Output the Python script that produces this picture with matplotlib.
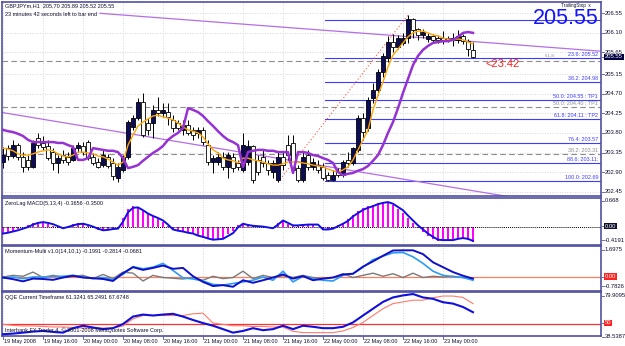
import matplotlib
matplotlib.use('Agg')
import matplotlib.pyplot as plt
from matplotlib.transforms import blended_transform_factory
import numpy as np

plt.rcParams['font.family'] = ['Liberation Sans', 'DejaVu Sans']

# ---- price bars (GBPJPYm, H1) ----
opens = [203.13, 203.45, 203.27, 203.52, 203.25, 203.18, 203.02, 203.68, 203.57, 203.50,
         203.36, 203.11, 203.29, 203.25, 203.18, 203.45, 203.50, 203.59, 203.25, 203.13,
         203.06, 203.25, 203.11, 202.76, 202.95, 203.25, 203.94, 204.14, 204.51, 204.03,
         204.03, 204.33, 204.26, 204.28, 204.10, 204.03, 203.87, 203.98, 203.87, 203.80,
         203.87, 203.52, 203.13, 203.13, 203.25, 203.02, 203.25, 203.11, 202.95, 203.13,
         203.48, 203.18, 203.25, 203.11, 202.90, 202.72, 203.25, 203.52, 203.57, 202.99,
         202.72, 203.29, 203.02, 203.06, 203.02, 202.83, 202.72, 202.90, 202.83, 203.18,
         203.11, 203.41, 204.14, 203.91, 204.60, 204.79, 205.20, 205.52, 205.89, 205.78,
         205.87, 205.98, 206.42, 206.17, 206.05, 205.96, 206.01, 205.98, 205.98, 205.98,
         205.98, 205.94, 206.01, 205.91, 205.70]
highs = [203.48, 203.52, 203.64, 203.57, 203.36, 203.29, 203.64, 203.80, 203.73, 203.64,
         203.45, 203.29, 203.41, 203.36, 203.52, 203.59, 203.59, 203.64, 203.34, 203.22,
         203.41, 203.32, 203.22, 203.11, 203.29, 204.10, 204.21, 204.60, 204.72, 204.14,
         204.44, 204.63, 204.49, 204.49, 204.21, 204.10, 204.10, 204.10, 203.94, 203.94,
         203.94, 203.64, 203.29, 203.36, 203.36, 203.36, 203.34, 203.18, 203.80, 203.64,
         203.52, 203.29, 203.41, 203.18, 203.18, 203.36, 203.36, 203.75, 203.75, 203.06,
         203.36, 203.41, 203.22, 203.18, 203.11, 202.90, 202.95, 202.99, 203.18, 203.36,
         203.48, 204.21, 204.26, 204.63, 204.95, 205.27, 205.64, 206.03, 206.08, 206.06,
         206.10, 206.51, 206.45, 206.21, 206.19, 206.10, 206.08, 206.05, 206.15, 206.03,
         206.10, 206.17, 206.08, 205.96, 205.89]
lows = [202.99, 203.18, 203.22, 203.18, 202.90, 202.95, 202.99, 203.45, 203.41, 203.18,
        202.95, 202.88, 203.11, 203.06, 203.15, 203.36, 203.29, 203.18, 203.06, 202.99,
        203.02, 202.99, 202.72, 202.67, 202.90, 203.20, 203.87, 204.10, 203.71, 203.75,
        203.68, 204.19, 204.17, 203.98, 203.82, 203.87, 203.75, 203.75, 203.64, 203.68,
        203.52, 203.06, 202.88, 203.06, 202.95, 202.76, 202.90, 202.95, 202.90, 203.06,
        202.65, 202.83, 203.02, 202.83, 202.76, 202.67, 202.95, 203.18, 202.90, 202.67,
        202.67, 202.95, 202.95, 202.88, 202.72, 202.69, 202.69, 202.79, 202.79, 203.02,
        203.06, 203.36, 203.64, 203.85, 204.49, 204.67, 205.09, 205.43, 205.66, 205.73,
        205.82, 205.87, 205.98, 205.94, 205.98, 205.89, 205.89, 205.87, 205.85, 205.89,
        205.80, 205.87, 205.85, 205.57, 205.52]
closes = [203.29, 203.27, 203.52, 203.25, 203.02, 203.02, 203.57, 203.52, 203.48, 203.22,
          203.11, 203.22, 203.18, 203.13, 203.45, 203.52, 203.36, 203.22, 203.11, 203.02,
          203.29, 203.04, 202.81, 203.02, 203.25, 204.05, 204.14, 204.51, 203.75, 203.87,
          204.33, 204.26, 204.33, 204.17, 203.91, 203.91, 203.98, 203.80, 203.75, 203.87,
          203.59, 203.13, 203.22, 203.25, 203.02, 203.29, 202.99, 203.02, 203.52, 203.48,
          202.72, 202.90, 203.11, 202.95, 203.11, 203.25, 203.06, 203.29, 202.95, 202.72,
          203.25, 203.02, 203.13, 202.95, 202.76, 202.72, 202.83, 202.83, 203.13, 203.11,
          203.45, 204.14, 203.82, 204.56, 204.79, 205.20, 205.55, 205.89, 205.78, 205.98,
          205.98, 206.40, 206.17, 206.05, 206.12, 206.03, 205.94, 205.94, 205.94, 205.94,
          205.94, 206.03, 205.91, 205.73, 205.55]

# orange MA and purple indicator line, one value per bar
ma_orange = [203.45, 203.43, 203.39, 203.32, 203.29, 203.29, 203.32, 203.36, 203.39, 203.41,
             203.39, 203.32, 203.27, 203.25, 203.29, 203.36, 203.36, 203.34, 203.32, 203.27,
             203.25, 203.20, 203.13, 203.06, 203.13, 203.52, 203.75, 203.96, 204.05, 204.12,
             204.19, 204.21, 204.17, 204.14, 204.10, 204.03, 203.94, 203.87, 203.84, 203.80,
             203.71, 203.55, 203.41, 203.34, 203.22, 203.18, 203.16, 203.11, 203.22, 203.22,
             203.18, 203.16, 203.13, 203.09, 203.06, 203.06, 203.09, 203.13, 203.13, 203.13,
             203.11, 203.09, 203.06, 203.04, 203.02, 202.97, 202.93, 202.90, 202.95, 203.02,
             203.18, 203.41, 203.64, 203.87, 204.33, 204.67, 204.97, 205.32, 205.59, 205.73,
             205.87, 206.01, 206.10, 206.14, 206.14, 206.10, 206.05, 206.03, 205.98, 205.96,
             205.94, 205.96, 205.94, 205.89, 205.85]
line_purple = [203.87, 203.84, 203.82, 203.78, 203.73, 203.64, 203.59, 203.59, 203.59, 203.59,
               203.59, 203.57, 203.57, 203.52, 203.48, 203.18, 203.18, 203.22, 203.45, 203.43,
               203.41, 203.39, 203.39, 203.36, 203.22, 202.99, 203.02, 203.06, 203.16, 203.25,
               203.34, 203.41, 203.50, 203.64, 203.73, 203.80, 203.91, 204.37, 204.33, 204.28,
               204.19, 204.07, 203.96, 203.84, 203.73, 203.64, 203.59, 203.52, 203.02, 203.36,
               203.39, 203.41, 203.41, 203.39, 203.39, 203.36, 203.36, 203.36, 202.88, 203.36,
               203.36, 203.34, 203.29, 203.27, 203.22, 203.18, 203.11, 202.90, 202.83, 202.86,
               202.88, 202.93, 202.97, 203.04, 203.16, 203.29, 203.52, 203.80, 204.05, 204.37,
               204.72, 205.04, 205.36, 205.57, 205.71, 205.80, 205.87, 205.89, 205.91, 205.91,
               205.94, 206.01, 206.10, 206.12, 206.10]

# fibonacci objects
fib_pct = [0.0, 23.6, 38.2, 50.0, 61.8, 76.4, 88.6, 100.0]
fib_price = [206.39, 205.52, 204.98, 204.55, 204.11, 203.57, 203.11, 202.69]
fib_text = ['', '23.6: 205.52', '38.2: 204.98', '50.0: 204.55 : TP1', '61.8: 204.11 : TP2',
            '76.4: 203.57', '88.6: 203.11:', '100.0: 202.69']
old_fib_price = [205.45, 204.40, 203.31]
old_fib_text = ['61.8: ', '50.0: 204.40 : TP1', '38.2: 203.31']

# trendlines (bar, price) anchors
trend1_bar = [19.4, 119.4]
trend1_price = [206.55, 205.68]
trend2_bar = [-0.2, 101.4]
trend2_price = [204.27, 202.33]

price_ticks = [206.55, 206.10, 205.65, 205.15, 204.70, 204.25, 203.80, 203.35, 202.90, 202.45]
time_labels = ['19 May 2008', '19 May 16:00', '20 May 00:00', '20 May 08:00', '20 May 16:00',
               '21 May 00:00', '21 May 08:00', '21 May 16:00', '22 May 00:00', '22 May 08:00',
               '22 May 16:00', '23 May 00:00']

# ---- ZeroLag MACD ----
macd_hist = [-0.15, -0.14, -0.10, -0.06, -0.02, 0.03, 0.08, 0.11, 0.10, 0.07,
             0.02, -0.03, -0.02, 0.02, 0.06, 0.08, 0.06, 0.02, -0.03, -0.08,
             -0.10, -0.07, -0.06, -0.04, 0.20, 0.42, 0.51, 0.45, 0.38, 0.30,
             0.25, 0.19, 0.12, 0.02, -0.09, -0.11, -0.14, -0.16, -0.19, -0.24,
             -0.27, -0.31, -0.32, -0.30, -0.27, -0.19, -0.10, 0.03, 0.09, 0.03,
             0.01, 0.00, -0.01, -0.03, -0.02, 0.09, 0.13, 0.06, 0.02, 0.04,
             0.05, 0.05, 0.04, -0.02, -0.09, -0.08, -0.03, 0.04, 0.10, 0.18,
             0.28, 0.37, 0.45, 0.50, 0.54, 0.58, 0.61, 0.59, 0.52, 0.42,
             0.33, 0.20, 0.08, -0.04, -0.14, -0.23, -0.30, -0.34, -0.34, -0.33,
             -0.31, -0.29, -0.30, -0.33, -0.37]
macd_signal = [-0.17, -0.15, -0.12, -0.09, -0.05, -0.01, 0.05, 0.09, 0.11, 0.09,
               0.06, 0.01, -0.04, -0.01, 0.03, 0.06, 0.07, 0.04, 0.00, -0.05,
               -0.09, -0.08, -0.06, -0.05, 0.12, 0.35, 0.46, 0.47, 0.40, 0.32,
               0.26, 0.21, 0.15, 0.05, -0.07, -0.10, -0.12, -0.15, -0.17, -0.22,
               -0.25, -0.29, -0.32, -0.31, -0.30, -0.23, -0.16, -0.02, 0.07, 0.04,
               0.02, 0.01, 0.00, -0.02, -0.04, 0.05, 0.15, 0.09, 0.03, 0.03,
               0.04, 0.05, 0.05, 0.05, -0.07, -0.07, -0.05, 0.01, 0.07, 0.14,
               0.25, 0.33, 0.41, 0.46, 0.50, 0.55, 0.58, 0.60, 0.56, 0.48,
               0.40, 0.27, 0.15, 0.03, -0.07, -0.17, -0.25, -0.32, -0.33, -0.33,
               -0.33, -0.30, -0.28, -0.30, -0.35]

# ---- Momentum-Multi (every second bar) ----
mom_dark = [-0.04, -0.13, -0.25, -0.10, -0.12, -0.17, -0.04, 0.06, -0.04, -0.08,
            -0.12, -0.23, 0.20, 0.53, 0.38, 0.49, 0.62, 0.44, 0.49, 0.03,
            -0.28, -0.51, -0.46, -0.55, -0.19, -0.33, -0.19, -0.04, 0.13, -0.10,
            0.04, -0.19, -0.10, -0.04, 0.13, 0.17, 0.56, 0.85, 1.16, 1.45,
            1.46, 1.46, 1.25, 0.80, 0.53, 0.26, 0.06, -0.10]
mom_light = [-0.08, -0.01, -0.10, -0.01, -0.01, 0.03, 0.03, 0.08, -0.01, -0.10,
             -0.04, -0.15, 0.13, 0.56, 0.44, 0.53, 0.74, 0.35, -0.06, -0.12,
             -0.23, -0.42, -0.46, -0.37, -0.28, -0.19, -0.01, -0.19, 0.31, -0.28,
             0.03, -0.10, -0.19, -0.23, 0.08, 0.17, 0.53, 0.94, 1.14, 1.32,
             1.34, 1.10, 0.74, 0.31, 0.08, 0.01, -0.04, -0.19]
mom_gray = [-0.01, 0.08, 0.03, 0.26, -0.04, 0.08, -0.04, 0.03, 0.08, -0.10,
            0.13, -0.10, 0.26, 0.20, -0.23, 0.08, -0.04, -0.08, -0.12, -0.04,
            -0.19, 0.03, -0.10, -0.04, 0.31, -0.10, 0.08, -0.04, 0.06, -0.04,
            0.08, -0.04, -0.10, -0.04, 0.17, -0.04, 0.08, 0.20, 0.03, 0.17,
            -0.04, 0.20, -0.04, 0.03, -0.01, 0.03, -0.04, -0.10]

# ---- QQE (every second bar) ----
qqe_fast = [40.2, 40.8, 41.7, 42.7, 43.3, 42.4, 41.7, 45.9, 48.2, 46.5,
            45.0, 45.9, 49.8, 56.8, 58.7, 57.8, 58.7, 59.4, 56.8, 53.6,
            50.7, 48.2, 45.0, 41.7, 43.3, 45.9, 44.0, 45.0, 48.2, 45.0,
            48.2, 47.2, 45.9, 45.9, 47.2, 51.3, 57.8, 64.2, 70.6, 74.8,
            76.7, 78.0, 74.8, 73.5, 70.3, 69.0, 65.8, 60.9]
qqe_slow = [49.5, 48.5, 48.0, 48.0, 47.5, 47.0, 47.0, 46.5, 46.0, 46.0,
            46.0, 46.0, 48.0, 54.6, 57.8, 57.8, 57.8, 57.8, 57.8, 59.4,
            60.0, 50.7, 49.5, 48.2, 48.2, 47.5, 47.5, 47.0, 47.0, 43.0,
            41.7, 41.7, 41.7, 41.7, 43.3, 46.5, 51.3, 57.8, 64.2, 69.0,
            70.6, 72.2, 72.2, 74.5, 76.1, 76.1, 74.8, 69.0]

# ---------------------------------------------------------------
W, H = 625, 346
fig = plt.figure(figsize=(W / 100, H / 100), dpi=100)
fig.patch.set_facecolor('white')

FRAME = '#5050a0'
GRID = '#c8c8dc'
TXT = '#101030'
FS = 4.0      # label text
AFS = 4.2     # axis value text

n = len(closes)
bars = np.arange(n)
half = np.arange(0, n, 2)
xlim = (-0.2, 119.6)
label_bars = np.arange(0, 8 * len(time_labels), 8)


def panel(top, bottom):
    ax = fig.add_axes([2 / W, 1 - bottom / H, 599 / W, (bottom - top) / H])
    ax.set_facecolor('white')
    ax.set_xlim(*xlim)
    for s in ax.spines.values():
        s.set_color(FRAME)
        s.set_linewidth(1.2)
    ax.set_xticks([])
    ax.set_yticks([])
    for b in label_bars:
        ax.axvline(b, color=GRID, lw=0.6, ls=(0, (1, 2)), zorder=0)
    return ax


def fig_label(py, text, box=None, tc=TXT):
    fig.text(605 / W, 1 - py / H, text, fontsize=AFS, color=tc, va='center', ha='left',
             bbox=None if box is None else dict(facecolor=box, edgecolor='none', pad=0.5))
    fig.add_artist(plt.Line2D([602 / W, 604 / W], [1 - py / H, 1 - py / H],
                              color=FRAME, lw=0.6))


# ---- main chart ----
ax = panel(2, 196)
ax.set_ylim(202.35, 206.81)
to_px = lambda p: 2 + (206.81 - p) / (206.81 - 202.35) * 194
for p in price_ticks:
    ax.axhline(p, color=GRID, lw=0.6, ls=(0, (1, 2)), zorder=0)
    if abs(p - closes[-1]) > 0.06:
        fig_label(to_px(p), f'{p:.2f}')

tr = blended_transform_factory(ax.transAxes, ax.transData)
fib_start = 64.4
for p, t in zip(fib_price, fib_text):
    ax.plot([fib_start, xlim[1]], [p, p], color='#3c3cff', lw=0.8, zorder=1)
    if t:
        ax.text(0.995, p + 0.025, t, transform=tr, fontsize=3.9, color='#3c3cff',
                ha='right', va='bottom')
for p in old_fib_price:
    ax.axhline(p, color='#8c8c8c', lw=0.8, ls=(0, (5, 3)), zorder=1)
ax.text(0.925, old_fib_price[0] + 0.07, old_fib_text[0], transform=tr, fontsize=3.2,
        color='#8c8c8c', ha='right', va='bottom')
for p, t in zip(old_fib_price[1:], old_fib_text[1:]):
    ax.text(0.995, p + 0.025, t, transform=tr, fontsize=3.9, color='#8c8c8c',
            ha='right', va='bottom')

ax.plot(trend1_bar, trend1_price, color='#b46ee6', lw=0.9, zorder=2)
ax.plot(trend2_bar, trend2_price, color='#b46ee6', lw=0.9, zorder=2)

# swing low -> swing high dotted line
lo_i = int(np.argmin(lows[55:75])) + 55
hi_i = int(np.argmax(highs[70:])) + 70
ax.plot([lo_i, hi_i], [lows[lo_i], highs[hi_i]], color='#ff5a3c', lw=0.8,
        ls=(0, (1, 2)), zorder=3)

o = np.array(opens); c = np.array(closes)
up = c >= o
ax.vlines(bars, lows, highs, color='#000000', lw=0.7, zorder=4)
ax.bar(bars, np.abs(c - o) + 0.008, bottom=np.minimum(o, c), width=0.62,
       color=np.where(up, '#0c0c5a', 'white'), edgecolor='#000000', lw=0.6, zorder=5)

ax.plot(bars, ma_orange, color='#ffa500', lw=1.0, zorder=6)
ax.plot(bars, line_purple, color='#9632d2', lw=1.8, zorder=6)

# bid box on the price axis
fig_label(to_px(closes[-1]), f'{closes[-1]:.2f}', box='#000040', tc='white')

fig.text(5 / W, 1 - 6 / H, 'GBPJPYm,H1  205.70 205.89 205.52 205.55', fontsize=FS,
         color=TXT, va='center')
fig.text(5 / W, 1 - 14 / H, '23 minutes 42 seconds left to bar end', fontsize=FS,
         color=TXT, va='center')
fig.text(599 / W, 1 - 18 / H, '205.55', fontsize=15.5, color='#1414ff', ha='right',
         va='center')
fig.text(561 / W, 1 - 5.5 / H, 'TrailingStop  x', fontsize=3.3, color=TXT, va='center')
fig.text(485 / W, 1 - 64 / H, '<23:42', fontsize=8, color='#ff2020', va='center')

# ---- MACD panel ----
ax2 = panel(198, 245)
ax2.set_ylim(-0.45, 0.70)
ax2.bar(bars, macd_hist, width=0.35, color='#ff00ff', zorder=2)
ax2.axhline(0, color='#000000', lw=0.7, ls=(0, (1, 1)), zorder=3)
ax2.plot(bars, macd_signal, color='#1010e0', lw=1.4, zorder=4)
fig.text(5 / W, 1 - 204 / H, 'ZeroLag MACD(5,13,4) -0.3656 -0.3500', fontsize=FS,
         color=TXT, va='center')
fig_label(201, '0.668')
fig_label(226, '0.00', box='#101030', tc='white')
fig_label(240, '-0.4191')

# ---- Momentum panel ----
ax3 = panel(246, 291)
ax3.set_ylim(-0.7826, 1.6975)
ax3.axhline(0, color='#ff8060', lw=0.9, zorder=2)
ax3.plot(half, mom_gray, color='#7a7a7a', lw=1.0, zorder=3)
ax3.plot(half, mom_light, color='#2c9cf0', lw=1.2, zorder=4)
ax3.plot(half, mom_dark, color='#1010c8', lw=1.4, zorder=5)
fig.text(5 / W, 1 - 251.5 / H, 'Momentum-Multi v1.0(14,10,1) -0.1991 -0.2814 -0.0681',
         fontsize=FS, color=TXT, va='center')
fig_label(249.5, '1.6975')
fig_label(276.5, '0.00', box='#ff2020', tc='white')
fig_label(286, '-0.7826')

# ---- QQE panel ----
ax4 = panel(292, 336)
ax4.set_ylim(38.5387, 79.9095)
ax4.axhline(50, color='#ff3030', lw=0.9, zorder=2)
ax4.plot(half, qqe_slow, color='#ff7a6a', lw=0.8, zorder=3)
ax4.plot(half, qqe_fast, color='#1010d8', lw=1.5, zorder=4)
fig.text(5 / W, 1 - 298 / H, 'QQE Current Timeframe 61.3241 65.2491 67.6748',
         fontsize=FS, color=TXT, va='center')
fig.text(5 / W, 1 - 330 / H, 'Interbank FX Trader 4, \u00a9 2001-2008 MetaQuotes Software Corp.',
         fontsize=FS, color=TXT, va='center')
fig_label(295.5, '79.9095')
fig_label(323, '50', box='#ff2020', tc='white')
fig_label(336.5, '38.5387')

# time axis labels
for b, t in zip(label_bars, time_labels):
    x = 2 + (b - xlim[0]) / (xlim[1] - xlim[0]) * 599
    fig.text((x + 1) / W, 1 - 341.5 / H, t, fontsize=FS, color=TXT, va='center', ha='left')
    fig.add_artist(plt.Line2D([x / W, x / W], [1 - 336 / H, 1 - 339 / H],
                              color=FRAME, lw=0.6))

fig.savefig('out.png', dpi=100, facecolor='white')
